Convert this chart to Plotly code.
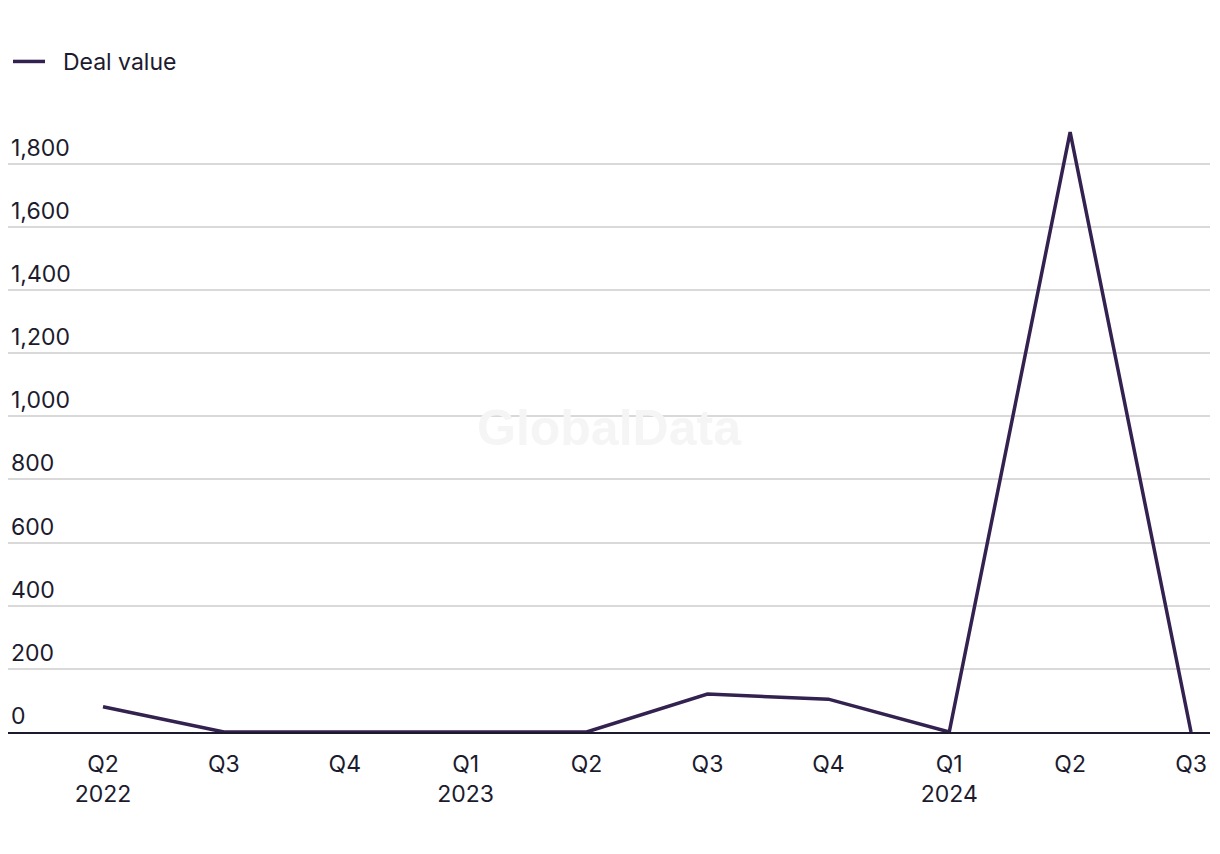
import plotly.graph_objects as go

quarters = ["Q2<br>2022", "Q3", "Q4", "Q1<br>2023", "Q2", "Q3", "Q4", "Q1<br>2024", "Q2", "Q3"]
deal_value = [80, 0, 0, 0, 0, 120, 104, 0, 1900, 0]
y_ticks = [0, 200, 400, 600, 800, 1000, 1200, 1400, 1600, 1800]

x_idx = list(range(len(quarters)))
txt = "#1c1b2e"

fig = go.Figure()
fig.add_trace(go.Scatter(
    x=x_idx, y=deal_value, mode="lines", name="\u00a0\u00a0Deal value",
    line=dict(color="#33214f", width=3.5),
))

fig.update_layout(
    width=1212, height=846,
    paper_bgcolor="white", plot_bgcolor="white",
    font=dict(family="Inter, Roboto, sans-serif", size=23, color=txt),
    margin=dict(l=0, r=10, t=102, b=122),
    showlegend=True,
    legend=dict(orientation="h", x=-3 / 1212, xref="container", y=1 - 32 / 846, yref="container",
                yanchor="top", xanchor="left", font=dict(size=23, color=txt),
                itemwidth=32),
    xaxis=dict(
        tickmode="array", tickvals=x_idx, ticktext=quarters,
        range=[-0.786, 9.157], showgrid=False, zeroline=False,
        showline=True, linecolor="#1c1b2e", linewidth=2,
        ticks="", tickfont=dict(size=23, color=txt), ticklabelstandoff=10,
    ),
    yaxis=dict(
        range=[0, 1970], tickmode="array", tickvals=y_ticks,
        ticktext=[f"{v:,}" for v in y_ticks],
        showgrid=True, gridcolor="#d9d9d9", gridwidth=1.5,
        zeroline=False, showline=False, ticks="",
        ticklabelposition="inside top", tickfont=dict(size=23, color=txt),
    ),
    annotations=[dict(
        text="<b>GlobalData</b>", x=0.5, y=0.489, xref="paper", yref="paper",
        showarrow=False, font=dict(size=50, color="#f5f5f5", family="Liberation Sans, Arial"),
    )],
)

fig.write_html("out.html")
